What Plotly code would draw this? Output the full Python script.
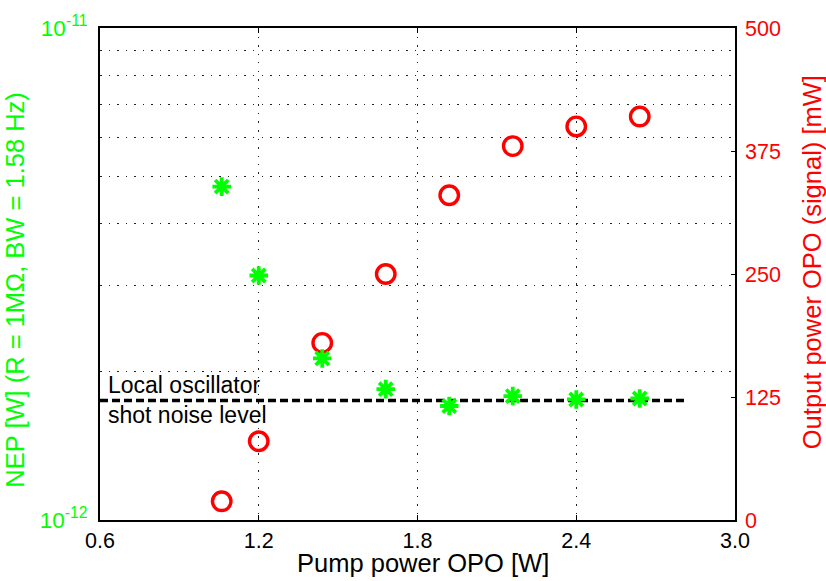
import plotly.graph_objects as go

# Measurements: pump power of the OPO versus NEP and signal output power
pump_power = [1.06, 1.20, 1.44, 1.68, 1.92, 2.16, 2.40, 2.64]          # W
nep = [4.76e-12, 3.14e-12, 2.13e-12, 1.845e-12, 1.705e-12,
       1.786e-12, 1.758e-12, 1.766e-12]                                # W
output_power = [19, 80, 180, 250, 330, 380, 400, 410]                  # mW

# Local oscillator shot noise reference
shot_noise_x = [0.6, 2.82]
shot_noise_nep = [1.75e-12, 1.75e-12]

x_ticks = [0.6, 1.2, 1.8, 2.4, 3.0]
right_ticks = [0, 125, 250, 375, 500]
left_ticks = [1e-12, 1e-11]
left_ticktext = ["10<sup>-12</sup>", "10<sup>-11</sup>"]
left_minor = [2e-12, 3e-12, 4e-12, 5e-12, 6e-12, 7e-12, 8e-12, 9e-12]

GREEN = "#00ff00"
RED = "#ff0000"
FONT = "Liberation Sans, Arial, sans-serif"
GRID_DASH = "1.5px,7px"
TICK_SIZE = 21.5
TITLE_SIZE = 25.5

fig = go.Figure()

# Output power (right axis, base y)
fig.add_trace(go.Scatter(
    x=pump_power, y=output_power, mode="markers", yaxis="y",
    marker=dict(symbol="circle-open", size=18.5, color=RED,
                line=dict(color=RED, width=3.4)),
    showlegend=False,
))

# Shot noise reference line (left log axis)
fig.add_trace(go.Scatter(
    x=shot_noise_x, y=shot_noise_nep, mode="lines", yaxis="y2",
    line=dict(color="black", width=3.5, dash="8px,4px"),
    showlegend=False,
))

# NEP (left log axis)
fig.add_trace(go.Scatter(
    x=pump_power, y=nep, mode="markers", yaxis="y2",
    marker=dict(symbol="asterisk-open", size=15.5, color=GREEN,
                line=dict(color=GREEN, width=3.8)),
    showlegend=False,
))

fig.update_layout(
    width=826, height=581,
    margin=dict(l=100, r=91, t=21, b=61),
    paper_bgcolor="white", plot_bgcolor="white",
    font=dict(family=FONT, size=TICK_SIZE, color="black"),
    xaxis=dict(
        range=[0.6, 3.0], tickvals=x_ticks, tickformat=".1f",
        showgrid=True, gridcolor="#222", gridwidth=1, griddash=GRID_DASH,
        showline=True, linecolor="black", linewidth=2, mirror="ticks",
        ticks="inside", ticklen=5, tickcolor="black",
        tickfont=dict(size=TICK_SIZE, color="black"), zeroline=False,
    ),
    yaxis=dict(
        range=[0, 500], tickvals=right_ticks, side="right",
        showgrid=False, zeroline=False,
        showline=True, linecolor="black", linewidth=1.5,
        ticks="inside", ticklen=4, tickcolor="black",
        tickfont=dict(size=TICK_SIZE, color=RED), ticklabelstandoff=4,
    ),
    yaxis2=dict(
        type="log", range=[-12, -11], overlaying="y", side="left",
        tickvals=left_ticks, ticktext=left_ticktext,
        showgrid=False, zeroline=False,
        showline=True, linecolor="black", linewidth=2,
        ticks="", tickfont=dict(size=TICK_SIZE + 1, color=GREEN),
        ticklabelstandoff=6,
        minor=dict(tickvals=left_minor, showgrid=True, gridcolor="#222",
                   gridwidth=1, griddash=GRID_DASH, ticks=""),
    ),
    annotations=[
        dict(text="Pump power OPO [W]", xref="paper", yref="paper",
             x=0.5087, y=-0.0875, xanchor="center", yanchor="middle",
             showarrow=False, font=dict(size=TITLE_SIZE, color="black")),
        dict(text="NEP [W] (R = 1MΩ, BW = 1.58 Hz)", xref="paper", yref="paper",
             x=-0.134, y=0.468, xanchor="center", yanchor="middle",
             textangle=-90, showarrow=False,
             font=dict(size=TITLE_SIZE, color=GREEN)),
        dict(text="Output power OPO (signal) [mW]", xref="paper", yref="paper",
             x=1.1213, y=0.524, xanchor="center", yanchor="middle",
             textangle=-90, showarrow=False,
             font=dict(size=TITLE_SIZE, color=RED)),
        dict(text="Local oscillator", xref="paper", yref="paper",
             x=0.0094, y=0.2752, xanchor="left", yanchor="middle",
             showarrow=False, font=dict(size=23, color="black")),
        dict(text="shot noise level", xref="paper", yref="paper",
             x=0.0094, y=0.2144, xanchor="left", yanchor="middle",
             showarrow=False, font=dict(size=23, color="black")),
    ],
)

fig.write_html("out.html")
